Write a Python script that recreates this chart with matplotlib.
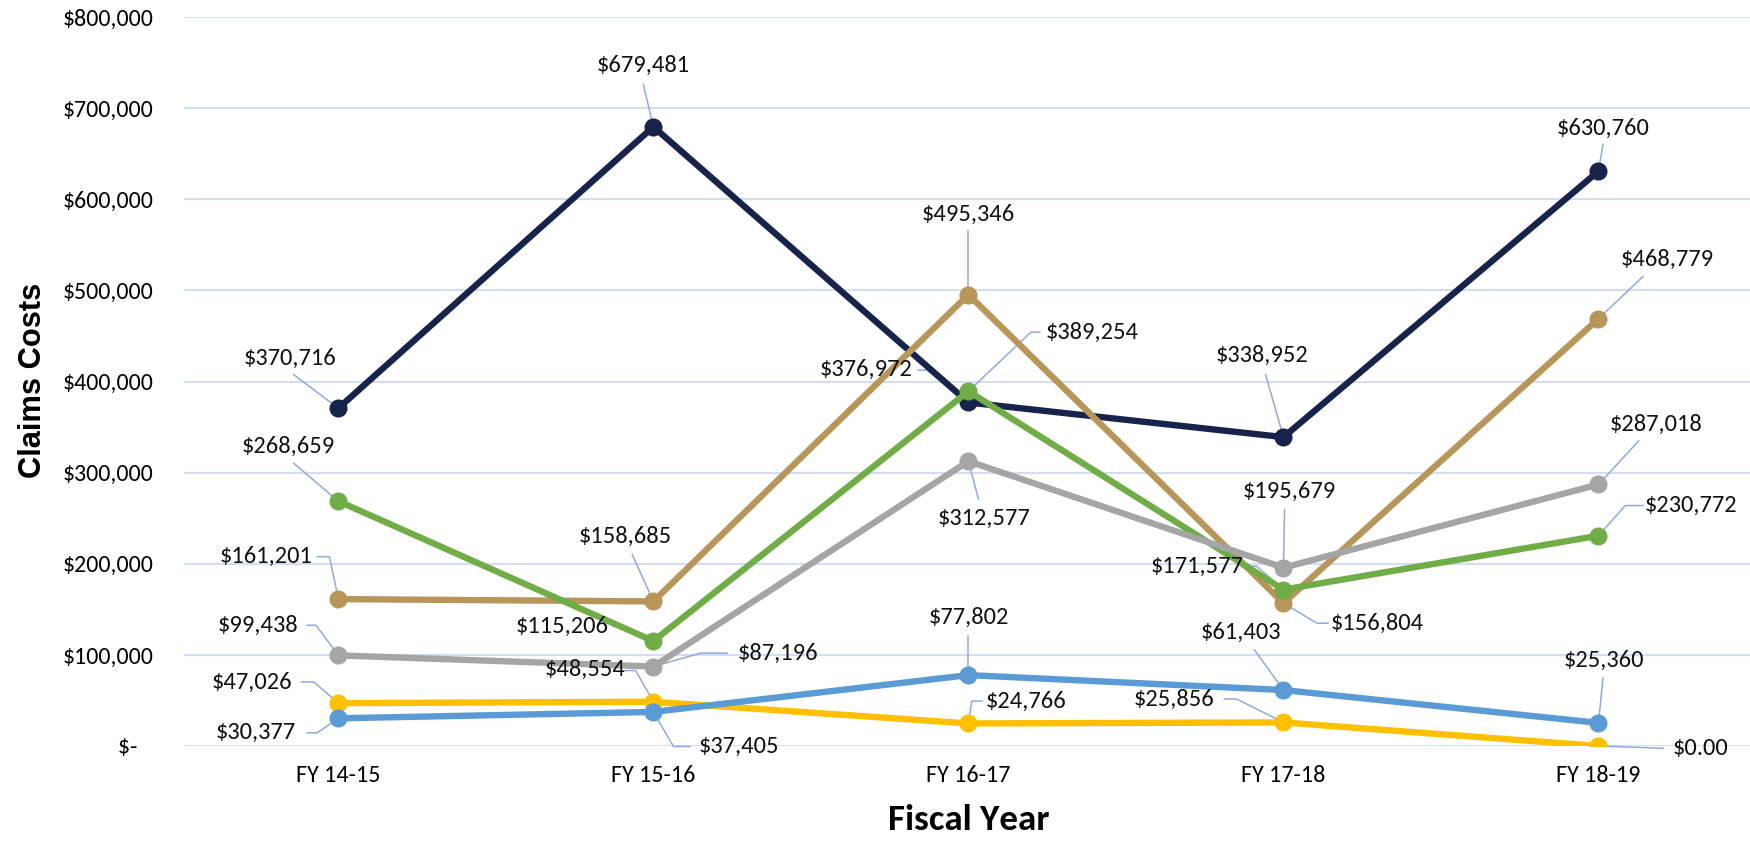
import numpy as np
import matplotlib
matplotlib.use("Agg")
import matplotlib.pyplot as plt
from matplotlib import font_manager
from matplotlib.font_manager import FontProperties
from matplotlib.textpath import TextPath
from matplotlib.ticker import FuncFormatter

# ---------------- DATA ----------------
years = ["FY 14-15", "FY 15-16", "FY 16-17", "FY 17-18", "FY 18-19"]

navy = [370716, 679481, 376972, 338952, 630760]
tan = [161201, 158685, 495346, 156804, 468779]
green = [268659, 115206, 389254, 171577, 230772]
gray = [99438, 87196, 312577, 195679, 287018]
yellow = [47026, 48554, 24766, 25856, 0]
blue = [30377, 37405, 77802, 61403, 25360]

labels_navy = ["$370,716", "$679,481", "$376,972", "$338,952", "$630,760"]
labels_tan = ["$161,201", "$158,685", "$495,346", "$156,804", "$468,779"]
labels_green = ["$268,659", "$115,206", "$389,254", "$171,577", "$230,772"]
labels_gray = ["$99,438", "$87,196", "$312,577", "$195,679", "$287,018"]
labels_yellow = ["$47,026", "$48,554", "$24,766", "$25,856", "$0.00"]
labels_blue = ["$30,377", "$37,405", "$77,802", "$61,403", "$25,360"]

# ---------------- LABEL LAYOUT (pixel offsets, y down) ----------------
# (text dx, text dy, leader vertices from label side toward the point)
lay_navy = [(-43, -45, [(-40, -30)]),
            (-9, -55, [(-9, -38)]),
            (-92, -30, [(-45, -29), (-37, -29)]),
            (-19, -73, [(-16, -56)]),
            (4, -38, [(4, -24)])]
lay_tan = [(-65, -38, [(-19, -38), (-8, -38)]),
           (-25, -58, [(-19, -42)]),
           (0, -72, [(0, -57)]),
           (84, 18, [(40, 18), (30, 18)]),
           (62, -53, [(40, -38)])]
lay_green = [(-45, -49, [(-40, -34)]),
             (-82, -13, [(-36, -13), (-26, -13)]),
             (111, -53, [(64, -53), (56, -53)]),
             (-77, -21, [(-33, -21), (-24, -21)]),
             (83, -27, [(40, -27), (24, -27)])]
lay_gray = [(-72, -27, [(-28, -27), (-20, -27)]),
            (112, -12, [(66, -12), (42, -12)]),
            (14, 51, [(9, 34)]),
            (5, -68, [(1, -52)]),
            (52, -54, [(36, -39)])]
lay_yellow = [(-77, -19, [(-33, -19), (-22, -19)]),
              (-61, -29, [(-25, -28), (-16, -28)]),
              (52, -20, [(12, -20), (3, -20)]),
              (-98, -21, [(-53, -21), (-42, -21)]),
              (91, 2, [(58, 2)])]
lay_blue = [(-74, 13, [(-28, 13), (-19, 13)]),
            (77, 31, [(33, 31), (18, 31)]),
            (0, -52, [(0, -35)]),
            (-38, -52, [(-26, -36)]),
            (5, -56, [(4, -40)])]

series = [
    (navy, labels_navy, lay_navy, "#17234a"),
    (tan, labels_tan, lay_tan, "#b8965a"),
    (green, labels_green, lay_green, "#70ad47"),
    (gray, labels_gray, lay_gray, "#a5a5a5"),
    (yellow, labels_yellow, lay_yellow, "#ffc000"),
    (blue, labels_blue, lay_blue, "#5b9bd5"),
]

S = 1750 / 1568  # offsets
LEADER = "#8eaadf"
DPI = 100

# pick a Calibri-like face if one is around
have = {f.name for f in font_manager.fontManager.ttflist}
face = "DejaVu Sans"
for cand in ["Carlito", "Liberation Sans Narrow", "DejaVu Sans Condensed",
             "Roboto Condensed", "Open Sans Condensed", "Lato"]:
    if cand in have:
        face = cand
        break
FAM = [face, "DejaVu Sans"]


def fit(text, target_px, family=FAM, weight="normal"):
    # font size that makes `text` about target_px wide
    w = TextPath((0, 0), text, size=10,
                 prop=FontProperties(family=family, weight=weight)).get_extents().width
    return 10 * target_px / (w * DPI / 72)


fs_lab = fit("$370,716", 91)
fs_ytk = fit("$800,000", 89)
fs_xtk = fit("FY 14-15", 81)
fs_xlab = fit("Fiscal Year", 159, weight="bold")
fs_ylab = fit("Claims Costs", 193, family=["Liberation Sans", "DejaVu Sans"],
              weight="bold")

# ---------------- FIGURE ----------------
fig = plt.figure(figsize=(17.5, 8.42), dpi=DPI)
ax = fig.add_axes([184 / 1750, 96 / 842, 1572 / 1750, 729 / 842])

x = np.arange(len(years))
ax.set_xlim(-0.49, 4.5)
ax.set_ylim(0, 800000)

for vals, labs, lay, col in series:
    ax.plot(x, vals, color=col, lw=4.6, marker="o", ms=12, zorder=3,
            solid_capstyle="round")

inv = ax.transData.inverted()
for vals, labs, lay, col in series:
    for i, (v, lab, (tdx, tdy, path)) in enumerate(zip(vals, labs, lay)):
        px, py = ax.transData.transform((i, v))
        pts = [(px + a * S, py - b * S) for a, b in path] + [(px, py)]
        dpts = inv.transform(pts)
        ax.plot(dpts[:, 0], dpts[:, 1], color=LEADER, lw=1.1, zorder=2,
                clip_on=False)
        ax.annotate(lab, xy=(i, v), xytext=(tdx * S, -tdy * S),
                    textcoords="offset pixels", ha="center", va="center",
                    fontsize=fs_lab, family=FAM, color="#111111", zorder=4)

ax.set_xticks(x)
ax.set_xticklabels(years, family=FAM, fontsize=fs_xtk)
ax.set_yticks(np.arange(0, 800001, 100000))
ax.yaxis.set_major_formatter(FuncFormatter(
    lambda v, p: "$-   " if v == 0 else "${:,.0f}".format(v)))
for t in ax.get_yticklabels():
    t.set_family(FAM)
    t.set_fontsize(fs_ytk)
ax.tick_params(axis="both", length=0)
ax.tick_params(axis="y", pad=22)
ax.tick_params(axis="x", pad=14)

ax.grid(axis="y", color="#d3ddf3", lw=1.5)
ax.set_axisbelow(True)
for s in ax.spines.values():
    s.set_visible(False)

fig.text(33 / 1750, 1 - 380 / 842, "Claims Costs", rotation=90,
         ha="center", va="center", fontsize=fs_ylab, fontweight="bold",
         family=["Liberation Sans", "DejaVu Sans"])
fig.text(969 / 1750, 1 - 820 / 842, "Fiscal Year", ha="center",
         va="center", fontsize=fs_xlab, fontweight="bold", family=FAM)

fig.savefig("out.png", dpi=DPI)
